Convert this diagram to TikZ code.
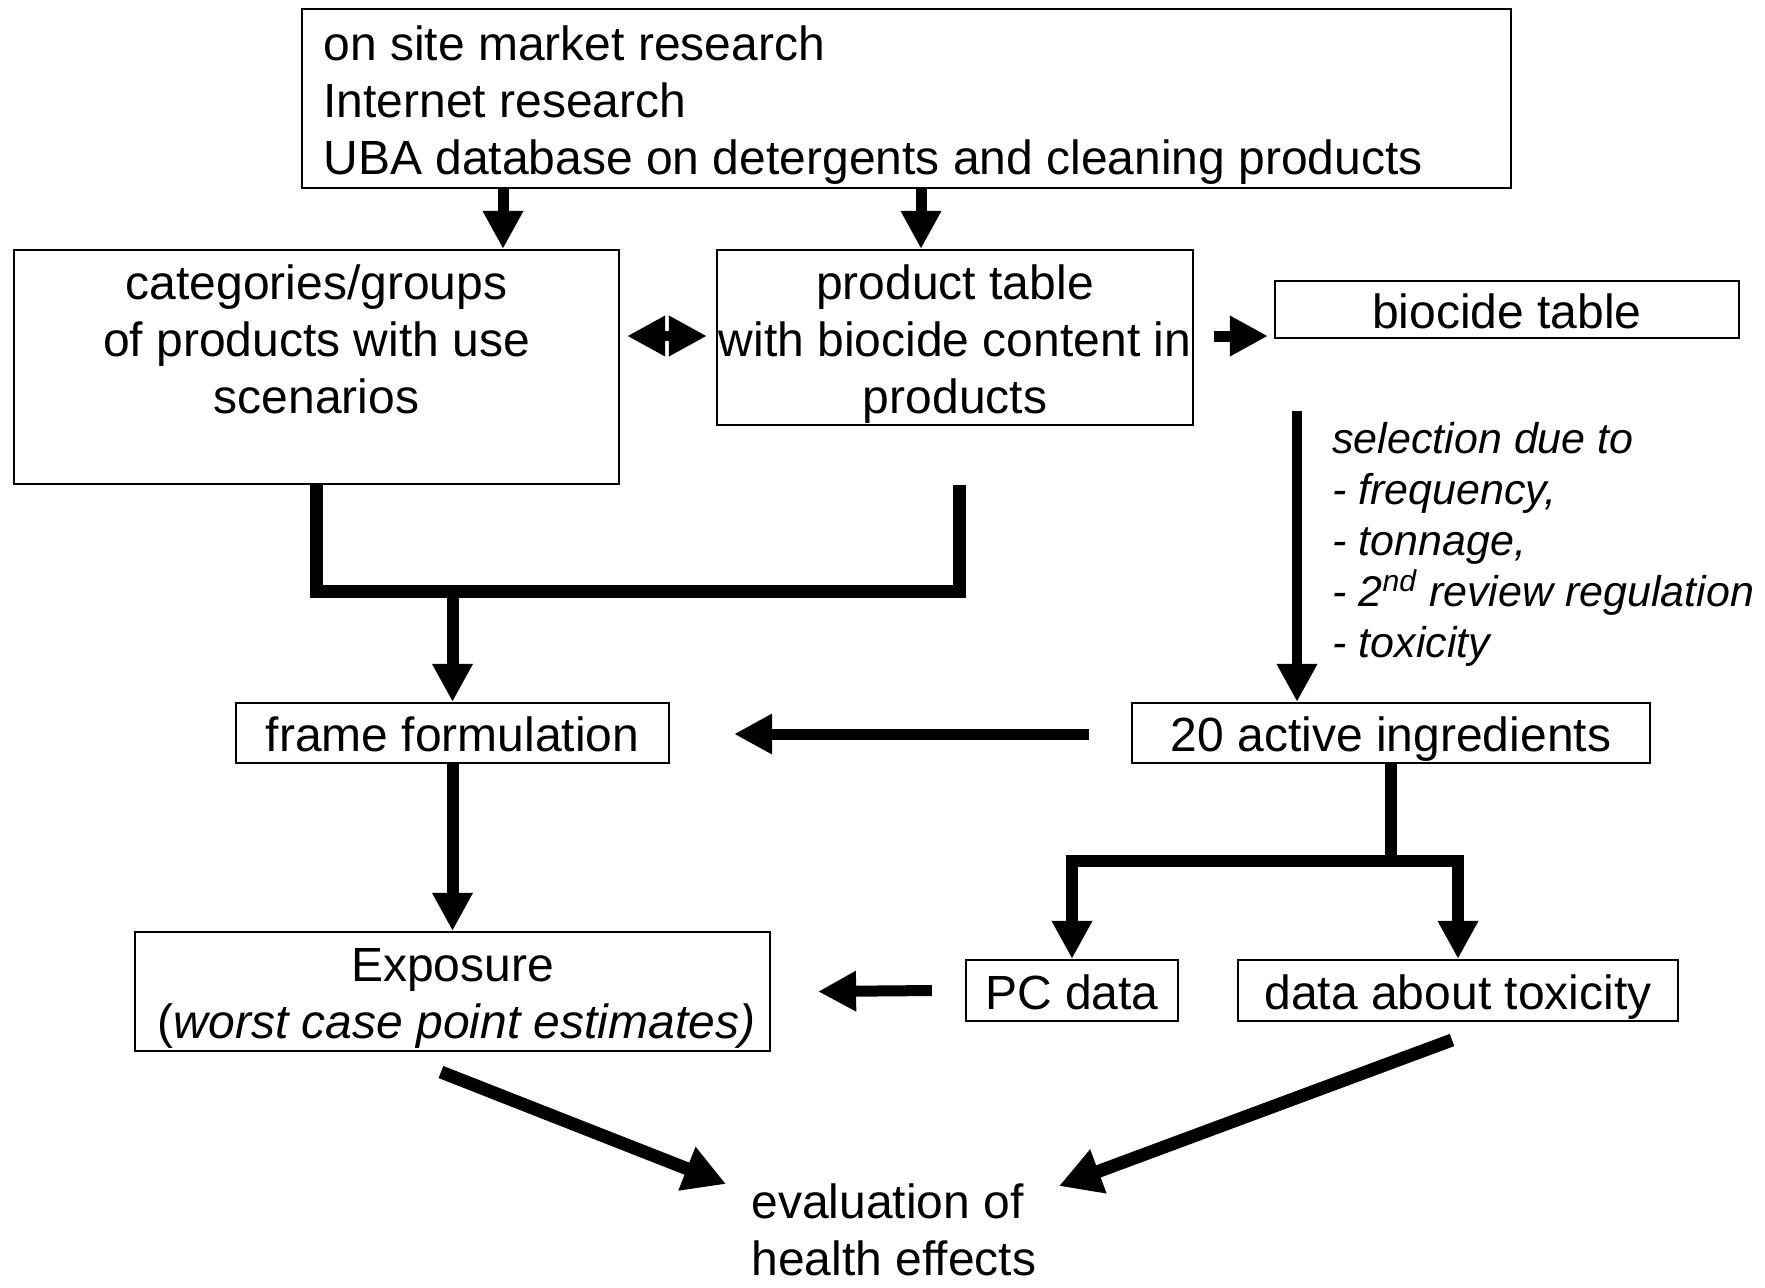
\documentclass[tikz,border=0pt]{standalone}
\usepackage{fontspec}
\setmainfont{Liberation Sans}
\usetikzlibrary{arrows.meta,calc}
\newcommand\bigf{\fontsize{24pt}{28.5pt}\selectfont}
\newcommand\self{\fontsize{21.5pt}{25.5pt}\selectfont}
\begin{document}
\begin{tikzpicture}[x=0.5pt,y=-0.5pt,
  box/.style={draw, line width=1.1pt, inner sep=0pt},
  txt/.style={font=\bigf, inner sep=0pt, align=center},
  one/.style={text height=19.5pt, text depth=1pt},
  arr/.style={line width=5.5pt, line join=miter, -{Triangle[length=19pt,width=19pt]}},
  dblarr/.style={line width=5pt, {Triangle[length=19pt,width=19pt]}-{Triangle[length=19pt,width=19pt]}},
  pipe/.style={line width=6.5pt, line join=miter}]
\useasboundingbox (0,0) rectangle (1765,1287);
\fill[white] (0,0) rectangle (1765,1287);

% boxes
\node[box, minimum width=604.5pt, minimum height=89.5pt] (top) at (906.5,98.5) {};
\node[txt, anchor=west, align=left] (topT) at (323,105.5)
  {on site market research\\Internet research\\UBA database on detergents and cleaning products};

\node[box, minimum width=302.5pt, minimum height=117pt] (cat) at (316.5,367) {};
\node[txt] (catT) at (316.5,339) {categories/groups\\of products with use\\scenarios};

\node[box, minimum width=238pt, minimum height=87.5pt] (prod) at (955,337.5) {};
\node[txt] (prodT) at (955,344.5) {product table\\with biocide content in\\products};

\node[box, txt, one, minimum width=232pt, minimum height=28.5pt] (bio) at (1507,309.5) {biocide table};

\node[box, txt, one, minimum width=216.5pt, minimum height=30pt] (frame) at (452.5,733) {frame formulation};
\node[box, txt, one, minimum width=259pt, minimum height=30pt] (act) at (1391,733) {20 active ingredients};
\node[box, txt, one, minimum width=106pt, minimum height=30.5pt] (pc) at (1072,990.5) {PC data};
\node[box, txt, one, minimum width=220pt, minimum height=30.5pt] (tox) at (1458,990.5) {data about toxicity};
\node[box, minimum width=317.5pt, minimum height=59.5pt] (exp) at (452.5,991.5) {};
\node[txt] (expT) at (452.5,998.5) {Exposure\\\,(\textit{worst case point estimates)}};

\node[font=\self\itshape, inner sep=0pt, align=left, anchor=west] (sel) at (1332,544)
  {selection due to\\- frequency,\\- tonnage,\\- 2\textsuperscript{nd} review regulation\\- toxicity};

\node[txt, anchor=west, align=left] (eval) at (751,1230) {evaluation of\\health effects};

% helper coordinates
\coordinate (xA) at (503,0);
\coordinate (xB) at (921,0);
\coordinate (yD) at (0,336);
\coordinate (xP) at (959,0);
\coordinate (mY) at (0,591);
\coordinate (bY) at (0,861);
\coordinate (selStart) at (1297,411);
\coordinate (xS) at (1297,0);
\coordinate (d1) at (441,1072);
\coordinate (e1) at (726,1184);
\coordinate (d2) at (1452,1040);
\coordinate (e2) at (1059,1186);

% connectors
\draw[arr] (top.south -| xA) -- (cat.north -| xA);
\draw[arr] (top.south -| xB) -- (prod.north -| xB);
\draw[dblarr] ($(cat.east |- yD)+(7,0)$) -- ($(prod.west |- yD)+(-9,0)$);
\draw[arr] ($(prod.east |- yD)+(20,0)$) -- ($(bio.west |- yD)+(-6,0)$);
\draw[arr, line width=5pt] (selStart) -- (act.north -| xS);

\draw[pipe] (cat.south) -- (cat.south |- mY) -- (xP |- mY) -- (xP |- cat.south);
\draw[arr, line width=6pt] (frame.north |- mY) -- (frame.north);

\draw[arr] ($(act.west)+(-42,1)$) -- ($(frame.east)+(64,1)$);
\draw[arr, line width=6pt] (frame.south) -- (exp.north);

\draw[line width=6pt] (act.south) -- ($(act.south |- bY)+(0,6)$);
\draw[arr, line width=6pt] (act.south |- bY) -| (pc.north);
\draw[arr, line width=6pt] (act.south |- bY) -| (tox.north);

\draw[arr] ($(pc.west)+(-33,0)$) -- ($(exp.east)+(47,0)$);

\draw[arr, line width=6.5pt, -{Triangle[length=21pt,width=22pt]}] (d1) -- (e1);
\draw[arr, line width=6.5pt, -{Triangle[length=21pt,width=22pt]}] (d2) -- (e2);
\end{tikzpicture}
\end{document}
